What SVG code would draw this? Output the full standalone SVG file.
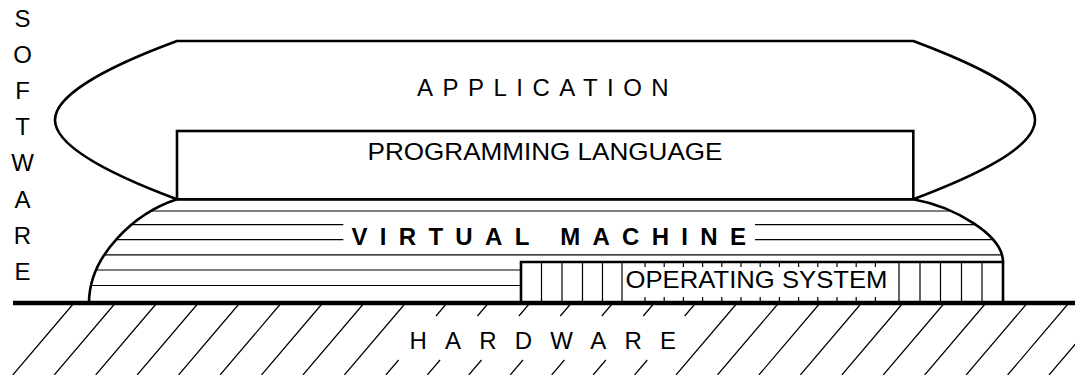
<svg xmlns="http://www.w3.org/2000/svg" width="1075" height="375" viewBox="0 0 1075 375">
  <style>
    .outline { fill: none; stroke: #000; stroke-width: 2.6; stroke-linejoin: miter; }
    .solid { fill: #fff; stroke: #000; stroke-width: 2.6; }
    .hatch { fill: none; stroke: #000; stroke-width: 1.2; }
    .label { font-family: "Liberation Sans", Arial, sans-serif; font-size: 24px; fill: #000; }
  </style>
  <defs>
    <clipPath id="vm-area">
      <path d="M 89 303 C 89 255, 135 213, 177 199.3 L 913.3 199.3 C 955 207, 1003 235, 1003 262 L 521 262 L 521 303 Z"/>
    </clipPath>
  </defs>

  <rect width="1075" height="375" fill="#fff"/>

  <!-- ground hatching with a break behind the HARDWARE label -->
  <g id="hardware">
    <path class="hatch" d="
      M 74 303 L 12.8 375
      M 115.45 303 L 54.25 375
      M 156.9 303 L 95.7 375
      M 198.35 303 L 137.15 375
      M 239.8 303 L 178.6 375
      M 281.25 303 L 220.05 375
      M 322.7 303 L 261.5 375
      M 364.15 303 L 302.95 375
      M 405.6 303 L 344.4 375
      M 447.05 303 L 436 316 M 398.6 360 L 385.85 375
      M 488.5 303 L 477.45 316 M 440.05 360 L 427.3 375
      M 529.95 303 L 518.9 316 M 481.5 360 L 468.75 375
      M 571.4 303 L 560.35 316 M 522.95 360 L 510.2 375
      M 612.85 303 L 601.8 316 M 564.4 360 L 551.65 375
      M 654.3 303 L 643.25 316 M 605.85 360 L 593.1 375
      M 695.75 303 L 684.7 316 M 647.3 360 L 634.55 375
      M 737.2 303 L 676 375
      M 778.65 303 L 717.45 375
      M 820.1 303 L 758.9 375
      M 861.55 303 L 800.35 375
      M 903 303 L 841.8 375
      M 944.45 303 L 883.25 375
      M 985.9 303 L 924.7 375
      M 1027.35 303 L 966.15 375
      M 1068.8 303 L 1007.6 375
      M 1110.25 303 L 1049.05 375
      M 1151.7 303 L 1090.5 375"/>
    <line x1="13" y1="303" x2="1075" y2="303" stroke="#000" stroke-width="4.6"/>
    <text class="label" x="409.5" y="349" letter-spacing="18.2">HARDWARE</text>
  </g>

  <!-- virtual machine dome with horizontal hatching -->
  <g id="virtual-machine">
    <g clip-path="url(#vm-area)" class="hatch">
      <line x1="80" y1="211" x2="1010" y2="211"/>
      <line x1="80" y1="224.7" x2="343.3" y2="224.7"/>
      <line x1="755" y1="224.7" x2="1010" y2="224.7"/>
      <line x1="80" y1="239.6" x2="343.3" y2="239.6"/>
      <line x1="755" y1="239.6" x2="1010" y2="239.6"/>
      <line x1="80" y1="254.8" x2="1010" y2="254.8"/>
      <line x1="80" y1="270" x2="1010" y2="270"/>
      <line x1="80" y1="285.5" x2="1010" y2="285.5"/>
    </g>
    <path class="outline" d="M 89 303 C 89 255, 135 213, 177 199.3 L 913.3 199.3 C 955 207, 1003 235, 1003 262"/>
    <text class="label" x="351.5" y="245" font-size="21.5" font-weight="bold" letter-spacing="12.3">VIRTUAL MACHINE</text>
  </g>

  <!-- operating system block with vertical hatching -->
  <g id="operating-system">
    <path class="hatch" d="
      M 541.5 262 V 303 M 562 262 V 303 M 582.5 262 V 303 M 602.5 262 V 303 M 622 262 V 303
      M 899 262 V 303 M 920 262 V 303 M 940.5 262 V 303 M 961.5 262 V 303 M 982 262 V 303"/>
    <path class="hatch" d="
      M 645 262 V 267 M 664.2 262 V 267 M 683.4 262 V 267 M 702.6 262 V 267 M 721.8 262 V 267
      M 741 262 V 267 M 760.2 262 V 267 M 779.4 262 V 267 M 798.6 262 V 267 M 817.8 262 V 267
      M 837 262 V 267 M 856.2 262 V 267 M 875.4 262 V 267
      M 645 297 V 303 M 664.2 297 V 303 M 683.4 297 V 303 M 702.6 297 V 303 M 721.8 297 V 303
      M 741 297 V 303 M 760.2 297 V 303 M 779.4 297 V 303 M 798.6 297 V 303 M 817.8 297 V 303
      M 837 297 V 303 M 856.2 297 V 303 M 875.4 297 V 303"/>
    <path class="outline" d="M 521 303 L 521 262 L 1003 262 L 1003 303"/>
    <text class="label" x="625.5" y="288" font-size="23" textLength="262" lengthAdjust="spacingAndGlyphs">OPERATING SYSTEM</text>
  </g>

  <!-- application cloud -->
  <g id="application">
    <path class="solid" d="M 177 199.3 C 120 178, 55 148, 55 120 C 55 92, 120 62, 177 41 L 913.3 41 C 975 64, 1035 92, 1035 120 C 1035 148, 975 176, 913.3 199.3"/>
    <text class="label" x="417" y="96" letter-spacing="9.47">APPLICATION</text>
  </g>

  <!-- programming language box -->
  <g id="programming-language">
    <rect class="solid" x="177" y="131" width="736.3" height="68.3"/>
    <text class="label" x="367.5" y="160" textLength="355" lengthAdjust="spacingAndGlyphs">PROGRAMMING LANGUAGE</text>
  </g>

  <!-- vertical side label -->
  <g id="software-label" class="label" font-size="20.5" text-anchor="middle">
    <text x="22.5" y="26.5">S</text>
    <text x="22.5" y="62.7">O</text>
    <text x="22.5" y="98.9">F</text>
    <text x="22.5" y="135.1">T</text>
    <text x="22.5" y="171.3">W</text>
    <text x="22.5" y="207.5">A</text>
    <text x="22.5" y="243.7">R</text>
    <text x="22.5" y="279.9">E</text>
  </g>
</svg>
